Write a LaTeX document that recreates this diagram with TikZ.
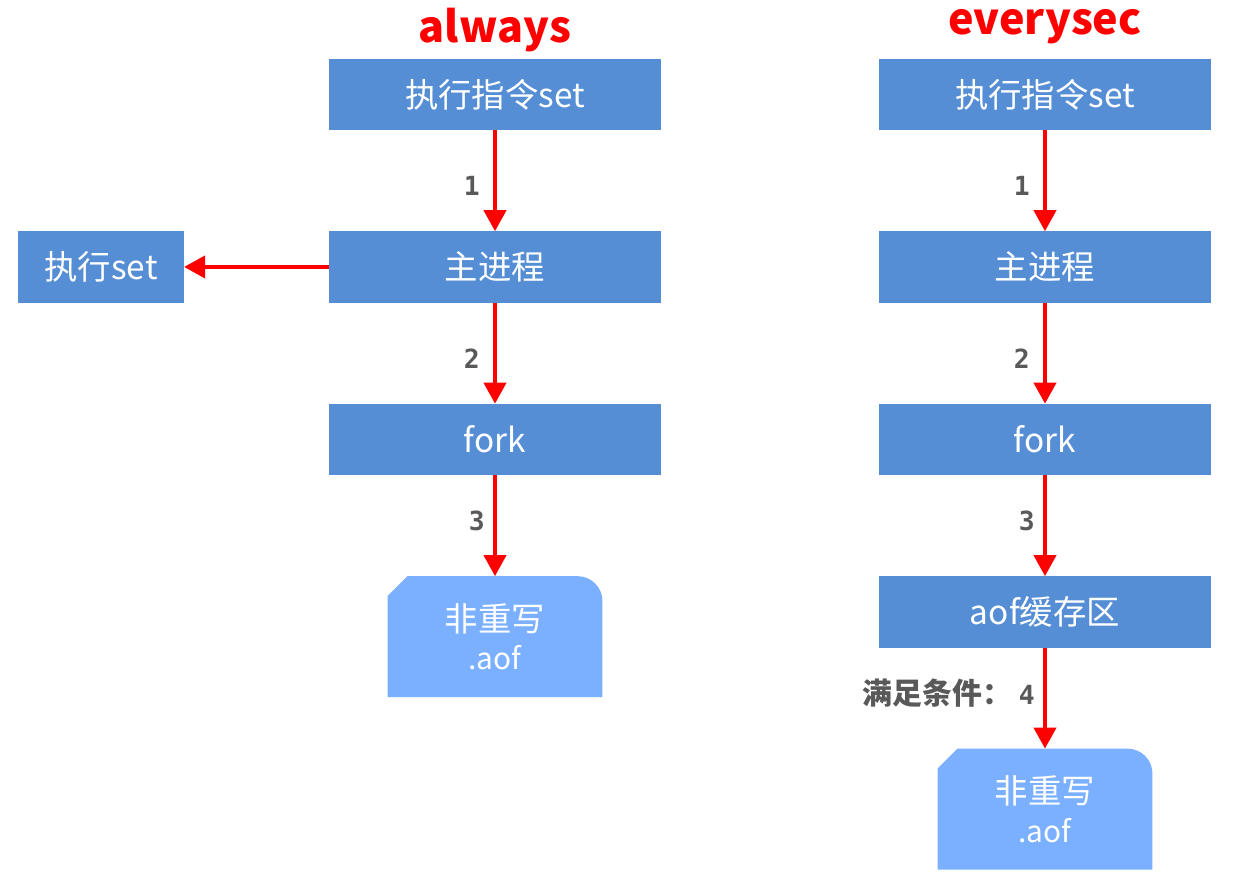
\documentclass[tikz,border=0pt]{standalone}
\usepackage{fontspec}
\setmainfont{Noto Sans CJK SC}
\newfontfamily\numfont{DejaVu Sans Mono}
\usetikzlibrary{arrows.meta,positioning}

\definecolor{boxblue}{RGB}{85,142,213}
\definecolor{fileblue}{RGB}{122,176,255}
\definecolor{labelgray}{RGB}{89,89,89}

\begin{document}
\begin{tikzpicture}[x=0.02cm,y=-0.02cm,node distance=2.02cm,
		-{Triangle[length=0.42cm,width=0.44cm]},line width=0.08cm,red]
		\tikzset{procbox/.style={fill=boxblue,text=white,minimum width=6.64cm,minimum height=1.43cm,inner sep=0pt,outer sep=0pt,font=\fontsize{19}{21}\selectfont}}
		\tikzset{filebox/.style={minimum width=4.3cm,minimum height=2.42cm,inner sep=0pt,outer sep=0pt,text=white,align=center,
			font=\fontsize{19}{23}\selectfont,
			path picture={\fill[fileblue] ([yshift=-0.4cm]path picture bounding box.north west) -- ([xshift=0.4cm]path picture bounding box.north west)
				[rounded corners=0.5cm] -- (path picture bounding box.north east) [sharp corners] -- (path picture bounding box.south east) -- (path picture bounding box.south west) -- cycle;}}}
		\tikzset{steplabel/.style={left,text=labelgray,font=\bfseries\fontsize{15}{17}\selectfont}}
		\tikzset{title/.style={text=red,inner sep=0pt,font=\bfseries\fontsize{24.5}{26}\selectfont}}

		\useasboundingbox (0,0) rectangle (1245,878);

		% always
		\node[title] (T1) at (495,30) {always};
		\node[procbox] (A1) at (495,94.5) {执行指令set};
		\node[procbox] (A2) [below=of A1] {主进程};
		\node[procbox] (A3) [below=of A2] {fork};
		\node[filebox] (A4) [below=of A3] {非重写\\[-1pt]{\fontsize{17}{20}\selectfont .aof}};
		\node[procbox,minimum width=3.32cm] (A5) [left=2.9cm of A2] {执行set};

		\draw (A1) -- node[steplabel,pos=0.55,xshift=-0.15cm] {\numfont 1} (A2);
		\draw (A2) -- node[steplabel,pos=0.55,xshift=-0.15cm] {\numfont 2} (A3);
		\draw (A3) -- node[steplabel,pos=0.45,xshift=-0.05cm] {\numfont 3} (A4);
		\draw (A2) -- (A5);

		% everysec
		\node[title] (T2) at (1045,27) {everysec};
		\node[procbox] (B1) at (1045,94.5) {执行指令set};
		\node[procbox] (B2) [below=of B1] {主进程};
		\node[procbox] (B3) [below=of B2] {fork};
		\node[procbox] (B4) [below=of B3] {aof缓存区};
		\node[filebox] (B5) [below=of B4] {非重写\\[-1pt]{\fontsize{17}{20}\selectfont .aof}};

		\draw (B1) -- node[steplabel,pos=0.55,xshift=-0.15cm] {\numfont 1} (B2);
		\draw (B2) -- node[steplabel,pos=0.55,xshift=-0.15cm] {\numfont 2} (B3);
		\draw (B3) -- node[steplabel,pos=0.45,xshift=-0.05cm] {\numfont 3} (B4);
		\draw (B4) -- node[steplabel,pos=0.45,xshift=-0.05cm] {{\fontsize{17}{19}\selectfont 满足条件：}\hspace{0.25em}\numfont 4} (B5);
	\end{tikzpicture}
\end{document}
